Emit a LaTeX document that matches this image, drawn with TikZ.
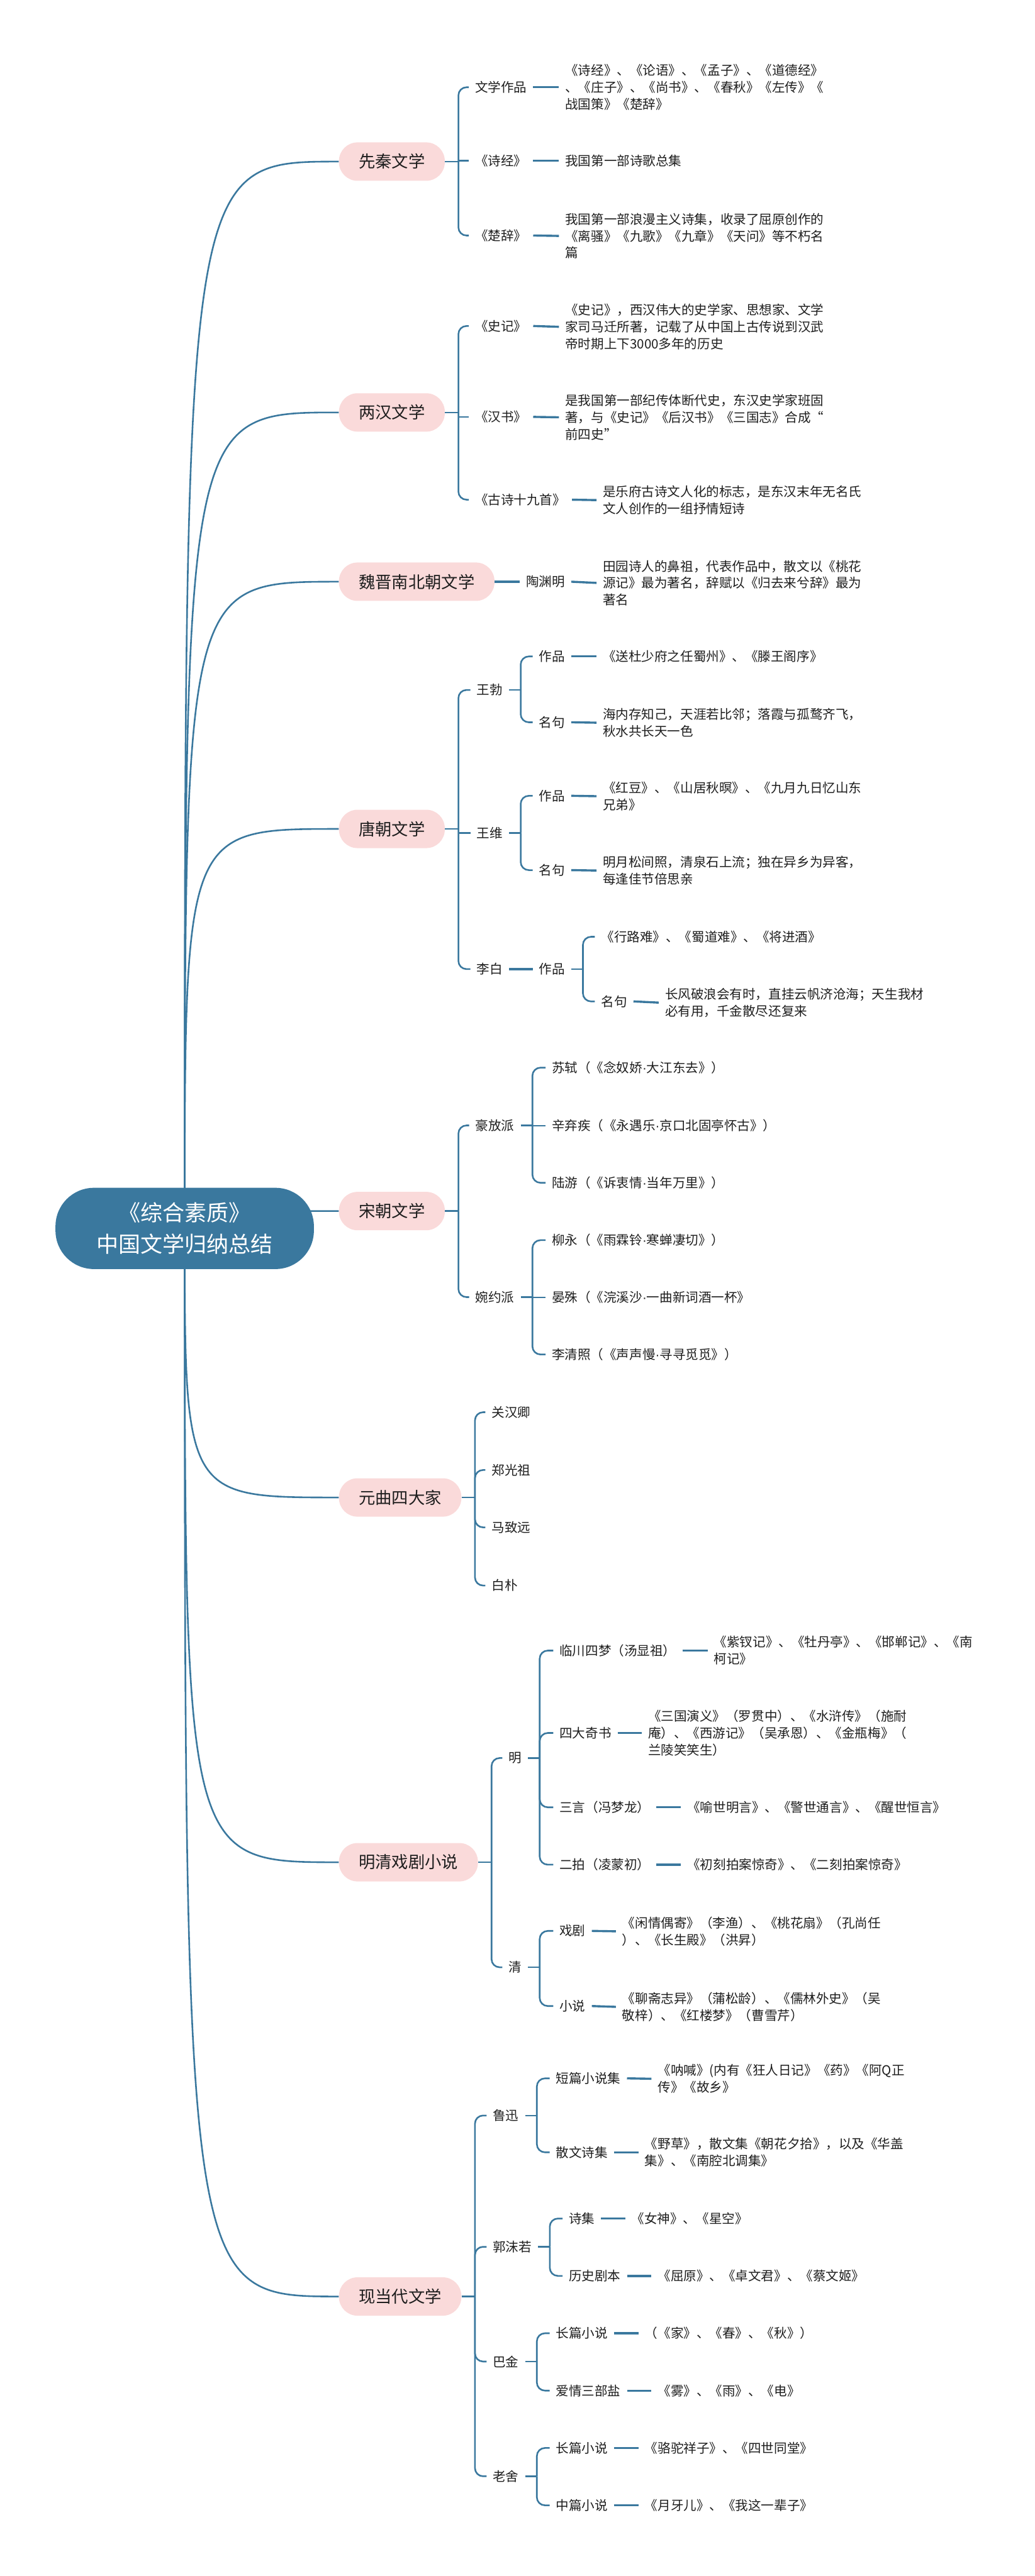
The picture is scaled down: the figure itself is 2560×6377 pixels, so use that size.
\documentclass[tikz,border=0pt]{standalone}
\usepackage{fontspec}
\setmainfont{Noto Sans CJK SC}
\newfontfamily\latinfont{Liberation Sans}
\newcommand{\middot}{{\latinfont ·}}
\definecolor{brc}{RGB}{58,120,158}
\definecolor{pinkbox}{RGB}{250,218,218}
\definecolor{txt}{RGB}{30,30,30}

\begin{document}
\begin{tikzpicture}[x=0.01cm, y=-0.01cm,
    rootbox/.style={fill=brc, text=white, rounded corners=0.95cm, minimum width=6.39cm, minimum height=2.01cm, align=center, font=\fontsize{15.5}{22}\selectfont},
    era/.style={fill=pinkbox, text=txt, anchor=west, rounded corners=0.46cm, minimum height=0.95cm, inner xsep=0.49cm, font=\fontsize{11.65}{14}\selectfont},
    lbl/.style={text=txt, anchor=west, align=left, inner xsep=0.15cm, inner ysep=0.04cm, font=\fontsize{9.1}{11.8}\selectfont},
    trunk/.style={draw=brc, line width=1.15pt},
    br/.style={draw=brc, line width=1.15pt, rounded corners=0.2cm},
    link/.style={draw=brc, line width=1.5pt}]

    \useasboundingbox (0,0) rectangle (2560,6377);

    \node (xianqin)  at ( 838, 400 ) [era] {先秦文学};
    \node (lianghan) at ( 838, 1021) [era] {两汉文学};
    \node (weijin)   at ( 838, 1440) [era] {魏晋南北朝文学};
    \node (tang)     at ( 838, 2052) [era] {唐朝文学};
    \node (song)     at ( 838, 2998) [era] {宋朝文学};
    \node (yuan)     at ( 838, 3707) [era] {元曲四大家};
    \node (mingqing) at ( 838, 4610) [era] {明清戏剧小说};
    \node (xiandai)  at ( 838, 5685) [era] {现当代文学};

    \coordinate (rc) at (457, 3041);
    \draw[trunk] (rc) .. controls (rc |- xianqin.west)  .. (xianqin.west);
    \draw[trunk] (rc) .. controls (rc |- lianghan.west) .. (lianghan.west);
    \draw[trunk] (rc) .. controls (rc |- weijin.west)   .. (weijin.west);
    \draw[trunk] (rc) .. controls (rc |- tang.west)     .. (tang.west);
    \draw[trunk] (rc) .. controls (rc |- song.west)     .. (song.west);
    \draw[trunk] (rc) .. controls (rc |- yuan.west)     .. (yuan.west);
    \draw[trunk] (rc) .. controls (rc |- mingqing.west) .. (mingqing.west);
    \draw[trunk] (rc) .. controls (rc |- xiandai.west)  .. (xiandai.west);
    \node (root) at (rc) [rootbox] {《综合素质》\\中国文学归纳总结};

    % 先秦
    \draw[br] (xianqin.east) -- ++(33,0) coordinate (xqb);
    \node (xq1)  at (1160, 216) [lbl] {文学作品};
    \node (xq1d) at (1383, 216) [lbl] {《诗经》、《论语》、《孟子》、《道德经》\\、《庄子》、《尚书》、《春秋》《左传》《\\战国策》《楚辞》};
    \node (xq2)  at (1160, 398) [lbl] {《诗经》};
    \node (xq2d) at (1383, 398) [lbl] {我国第一部诗歌总集};
    \node (xq3)  at (1160, 583) [lbl] {《楚辞》};
    \node (xq3d) at (1383, 584) [lbl] {我国第一部浪漫主义诗集，收录了屈原创作的\\《离骚》《九歌》《九章》《天问》等不朽名\\篇};
    \draw[br] (xqb) |- (xq1.west);
    \draw[br] (xqb |- xq2.west) -- (xq2.west);
    \draw[br] (xqb) |- (xq3.west);
    \draw[link] (xq1.east) -- (xq1d.west);
    \draw[link] (xq2.east) -- (xq2d.west);
    \draw[link] (xq3.east) -- (xq3d.west);

    % 两汉
    \draw[br] (lianghan.east) -- ++(33,0) coordinate (lhb);
    \node (lh1)  at (1160, 807) [lbl] {《史记》};
    \node (lh1d) at (1383, 809) [lbl] {《史记》，西汉伟大的史学家、思想家、文学\\家司马迁所著，记载了从中国上古传说到汉武\\帝时期上下3000多年的历史};
    \node (lh2)  at (1160, 1032) [lbl] {《汉书》};
    \node (lh2d) at (1383, 1033) [lbl] {是我国第一部纪传体断代史，东汉史学家班固\\著，与《史记》《后汉书》《三国志》合成“\\前四史”};
    \node (lh3)  at (1160, 1237) [lbl] {《古诗十九首》};
    \node (lh3d) at (1476, 1238) [lbl] {是乐府古诗文人化的标志，是东汉末年无名氏\\文人创作的一组抒情短诗};
    \draw[br] (lhb) |- (lh1.west);
    \draw[br] (lhb |- lh2.west) -- (lh2.west);
    \draw[br] (lhb) |- (lh3.west);
    \draw[link] (lh1.east) -- (lh1d.west);
    \draw[link] (lh2.east) -- (lh2d.west);
    \draw[link] (lh3.east) -- (lh3d.west);

    % 魏晋南北朝
    \node (wj1)  at (1286, 1440) [lbl] {陶渊明};
    \node (wj1d) at (1476, 1443) [lbl] {田园诗人的鼻祖，代表作品中，散文以《桃花\\源记》最为著名，辞赋以《归去来兮辞》最为\\著名};
    \draw[link] (weijin.east) -- (wj1.west);
    \draw[link] (wj1.east) -- (wj1d.west);

    % 唐朝
    \draw[br] (tang.east) -- ++(33,0) coordinate (tb);
    \node (wangbo)  at (1164, 1708) [lbl] {王勃};
    \node (wangwei) at (1164, 2062) [lbl] {王维};
    \node (libai)   at (1164, 2399) [lbl] {李白};
    \draw[br] (tb) |- (wangbo.west);
    \draw[br] (tb |- wangwei.west) -- (wangwei.west);
    \draw[br] (tb) |- (libai.west);

    \draw[br] (wangbo.east) -- ++(29,0) coordinate (wbb);
    \node (wb1)  at (1318, 1625) [lbl] {作品};
    \node (wb1d) at (1476, 1625) [lbl] {《送杜少府之任蜀州》、《滕王阁序》};
    \node (wb2)  at (1318, 1788) [lbl] {名句};
    \node (wb2d) at (1476, 1789) [lbl] {海内存知己，天涯若比邻；落霞与孤鹜齐飞，\\秋水共长天一色};
    \draw[br] (wbb) |- (wb1.west);
    \draw[br] (wbb) |- (wb2.west);
    \draw[link] (wb1.east) -- (wb1d.west);
    \draw[link] (wb2.east) -- (wb2d.west);

    \draw[br] (wangwei.east) -- ++(29,0) coordinate (wwb);
    \node (ww1)  at (1318, 1970) [lbl] {作品};
    \node (ww1d) at (1476, 1971) [lbl] {《红豆》、《山居秋暝》、《九月九日忆山东\\兄弟》};
    \node (ww2)  at (1318, 2154) [lbl] {名句};
    \node (ww2d) at (1476, 2155) [lbl] {明月松间照，清泉石上流；独在异乡为异客，\\每逢佳节倍思亲};
    \draw[br] (wwb) |- (ww1.west);
    \draw[br] (wwb) |- (ww2.west);
    \draw[link] (ww1.east) -- (ww1d.west);
    \draw[link] (ww2.east) -- (ww2d.west);

    \node (lb1)  at (1318, 2399) [lbl] {作品};
    \draw[link] (libai.east) -- (lb1.west);
    \draw[br] (lb1.east) -- ++(29,0) coordinate (lbb);
    \node (lb1d) at (1472, 2319) [lbl] {《行路难》、《蜀道难》、《将进酒》};
    \node (lb2)  at (1472, 2479) [lbl] {名句};
    \node (lb2d) at (1630, 2482) [lbl] {长风破浪会有时，直挂云帆济沧海；天生我材\\必有用，千金散尽还复来};
    \draw[br] (lbb) |- (lb1d.west);
    \draw[br] (lbb) |- (lb2.west);
    \draw[link] (lb2.east) -- (lb2d.west);

    % 宋朝
    \draw[br] (song.east) -- ++(33,0) coordinate (sb);
    \node (haofang) at (1161, 2786) [lbl] {豪放派};
    \node (wanyue)  at (1161, 3211) [lbl] {婉约派};
    \draw[br] (sb) |- (haofang.west);
    \draw[br] (sb) |- (wanyue.west);

    \draw[br] (haofang.east) -- ++(29,0) coordinate (hfb);
    \node (hf1) at (1350, 2643) [lbl] {苏轼（《念奴娇\middot 大江东去》）};
    \node (hf2) at (1350, 2787) [lbl] {辛弃疾（《永遇乐\middot 京口北固亭怀古》）};
    \node (hf3) at (1350, 2928) [lbl] {陆游（《诉衷情\middot 当年万里》）};
    \draw[br] (hfb) |- (hf1.west);
    \draw[br] (hfb |- hf2.west) -- (hf2.west);
    \draw[br] (hfb) |- (hf3.west);

    \draw[br] (wanyue.east) -- ++(29,0) coordinate (wyb);
    \node (wy1) at (1350, 3070) [lbl] {柳永（《雨霖铃\middot 寒蝉凄切》）};
    \node (wy2) at (1350, 3212) [lbl] {晏殊（《浣溪沙\middot 一曲新词酒一杯》};
    \node (wy3) at (1350, 3353) [lbl] {李清照（《声声慢\middot 寻寻觅觅》）};
    \draw[br] (wyb) |- (wy1.west);
    \draw[br] (wyb |- wy2.west) -- (wy2.west);
    \draw[br] (wyb) |- (wy3.west);

    % 元曲
    \draw[br] (yuan.east) -- ++(33,0) coordinate (yb);
    \node (yq1) at (1201, 3496) [lbl] {关汉卿};
    \node (yq2) at (1201, 3639) [lbl] {郑光祖};
    \node (yq3) at (1201, 3781) [lbl] {马致远};
    \node (yq4) at (1201, 3925) [lbl] {白朴};
    \draw[br] (yb) |- (yq1.west);
    \draw[br] (yb) |- (yq2.west);
    \draw[br] (yb) |- (yq3.west);
    \draw[br] (yb) |- (yq4.west);

    % 明清
    \draw[br] (mingqing.east) -- ++(33,0) coordinate (mqb);
    \node (ming) at (1243, 4352) [lbl] {明};
    \node (qing) at (1243, 4870) [lbl] {清};
    \draw[br] (mqb) |- (ming.west);
    \draw[br] (mqb) |- (qing.west);

    \draw[br] (ming.east) -- ++(29,0) coordinate (mb);
    \node (m1)  at (1369, 4086) [lbl] {临川四梦（汤显祖）};
    \node (m1d) at (1751, 4086) [lbl] {《紫钗记》、《牡丹亭》、《邯郸记》、《南\\柯记》};
    \node (m2)  at (1369, 4290) [lbl] {四大奇书};
    \node (m2d) at (1588, 4290) [lbl] {《三国演义》（罗贯中）、《水浒传》（施耐\\庵）、《西游记》（吴承恩）、《金瓶梅》（\\兰陵笑笑生）};
    \node (m3)  at (1369, 4474) [lbl] {三言（冯梦龙）};
    \node (m3d) at (1685, 4474) [lbl] {《喻世明言》、《警世通言》、《醒世恒言》};
    \node (m4)  at (1369, 4616) [lbl] {二拍（凌蒙初）};
    \node (m4d) at (1685, 4616) [lbl] {《初刻拍案惊奇》、《二刻拍案惊奇》};
    \draw[br] (mb) |- (m1.west);
    \draw[br] (mb) |- (m2.west);
    \draw[br] (mb) |- (m3.west);
    \draw[br] (mb) |- (m4.west);
    \draw[link] (m1.east) -- (m1d.west);
    \draw[link] (m2.east) -- (m2d.west);
    \draw[link] (m3.east) -- (m3d.west);
    \draw[link] (m4.east) -- (m4d.west);

    \draw[br] (qing.east) -- ++(29,0) coordinate (qb);
    \node (q1)  at (1369, 4780) [lbl] {戏剧};
    \node (q1d) at (1524, 4781) [lbl] {《闲情偶寄》（李渔）、《桃花扇》（孔尚任\\）、《长生殿》（洪昇）};
    \node (q2)  at (1369, 4966) [lbl] {小说};
    \node (q2d) at (1524, 4968) [lbl] {《聊斋志异》（蒲松龄）、《儒林外史》（吴\\敬梓）、《红楼梦》（曹雪芹）};
    \draw[br] (qb) |- (q1.west);
    \draw[br] (qb) |- (q2.west);
    \draw[link] (q1.east) -- (q1d.west);
    \draw[link] (q2.east) -- (q2d.west);

    % 现当代
    \draw[br] (xiandai.east) -- ++(33,0) coordinate (xdb);
    \node (luxun)    at (1204, 5237) [lbl] {鲁迅};
    \node (guomoruo) at (1204, 5562) [lbl] {郭沫若};
    \node (bajin)    at (1204, 5846) [lbl] {巴金};
    \node (laoshe)   at (1204, 6130) [lbl] {老舍};
    \draw[br] (xdb) |- (luxun.west);
    \draw[br] (xdb) |- (guomoruo.west);
    \draw[br] (xdb) |- (bajin.west);
    \draw[br] (xdb) |- (laoshe.west);

    \draw[br] (luxun.east) -- ++(29,0) coordinate (lxb);
    \node (lx1)  at (1360, 5145) [lbl] {短篇小说集};
    \node (lx1d) at (1612, 5146) [lbl] {《呐喊》(内有《狂人日记》《药》《阿Q正\\传》《故乡》};
    \node (lx2)  at (1360, 5328) [lbl] {散文诗集};
    \node (lx2d) at (1580, 5328) [lbl] {《野草》，散文集《朝花夕拾》，以及《华盖\\集》、《南腔北调集》};
    \draw[br] (lxb) |- (lx1.west);
    \draw[br] (lxb) |- (lx2.west);
    \draw[link] (lx1.east) -- (lx1d.west);
    \draw[link] (lx2.east) -- (lx2d.west);

    \draw[br] (guomoruo.east) -- ++(29,0) coordinate (gmb);
    \node (gm1)  at (1392, 5492) [lbl] {诗集};
    \node (gm1d) at (1547, 5492) [lbl] {《女神》、《星空》};
    \node (gm2)  at (1392, 5634) [lbl] {历史剧本};
    \node (gm2d) at (1612, 5634) [lbl] {《屈原》、《卓文君》、《蔡文姬》};
    \draw[br] (gmb) |- (gm1.west);
    \draw[br] (gmb) |- (gm2.west);
    \draw[link] (gm1.east) -- (gm1d.west);
    \draw[link] (gm2.east) -- (gm2d.west);

    \draw[br] (bajin.east) -- ++(29,0) coordinate (bjb);
    \node (bj1)  at (1360, 5776) [lbl] {长篇小说};
    \node (bj1d) at (1580, 5776) [lbl] {（《家》、《春》、《秋》）};
    \node (bj2)  at (1360, 5918) [lbl] {爱情三部盐};
    \node (bj2d) at (1612, 5918) [lbl] {《雾》、《雨》、《电》};
    \draw[br] (bjb) |- (bj1.west);
    \draw[br] (bjb) |- (bj2.west);
    \draw[link] (bj1.east) -- (bj1d.west);
    \draw[link] (bj2.east) -- (bj2d.west);

    \draw[br] (laoshe.east) -- ++(29,0) coordinate (lsb);
    \node (ls1)  at (1360, 6060) [lbl] {长篇小说};
    \node (ls1d) at (1580, 6060) [lbl] {《骆驼祥子》、《四世同堂》};
    \node (ls2)  at (1360, 6202) [lbl] {中篇小说};
    \node (ls2d) at (1580, 6202) [lbl] {《月牙儿》、《我这一辈子》};
    \draw[br] (lsb) |- (ls1.west);
    \draw[br] (lsb) |- (ls2.west);
    \draw[link] (ls1.east) -- (ls1d.west);
    \draw[link] (ls2.east) -- (ls2d.west);

\end{tikzpicture}
\end{document}
